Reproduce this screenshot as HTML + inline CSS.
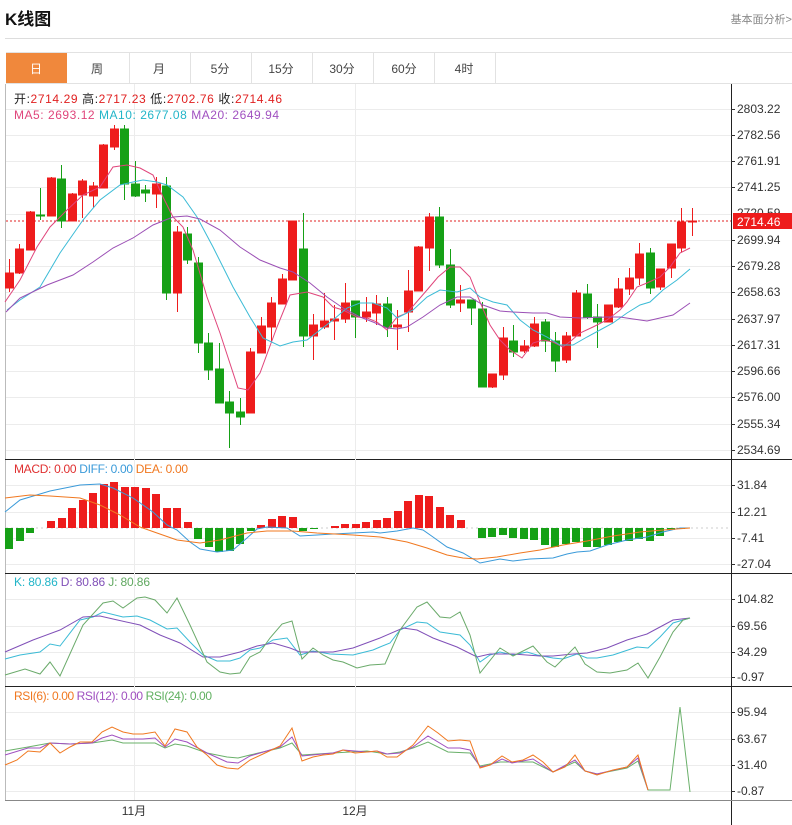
<!DOCTYPE html>
<html><head><meta charset="utf-8"><style>
body{margin:0;width:792px;height:825px;background:#fff;overflow:hidden;font-family:"Liberation Sans","Noto Sans CJK SC",sans-serif}
svg{position:absolute;left:0;top:0}
</style></head><body>
<svg width="792" height="825" xmlns="http://www.w3.org/2000/svg" font-family="Liberation Sans, Noto Sans CJK SC, sans-serif">
<text x="5" y="25" font-size="17" font-weight="bold" fill="#111">K线图</text>
<text x="792" y="23" font-size="11" fill="#888" text-anchor="end">基本面分析&gt;</text>
<line x1="5" y1="38.5" x2="792" y2="38.5" stroke="#ddd"/>
<!-- tabs -->
<line x1="6" y1="52.5" x2="792" y2="52.5" stroke="#e2e2e2"/>
<line x1="6" y1="83.5" x2="792" y2="83.5" stroke="#e2e2e2"/>
<rect x="6" y="53" width="61" height="30" fill="#f0883c"/>
<g stroke="#e2e2e2"><line x1="129.5" y1="53" x2="129.5" y2="83"/><line x1="190.5" y1="53" x2="190.5" y2="83"/><line x1="251.5" y1="53" x2="251.5" y2="83"/><line x1="312.5" y1="53" x2="312.5" y2="83"/><line x1="373.5" y1="53" x2="373.5" y2="83"/><line x1="434.5" y1="53" x2="434.5" y2="83"/><line x1="495.5" y1="53" x2="495.5" y2="83"/></g>
<g font-size="12" fill="#444" text-anchor="middle"><text x="36" y="73" fill="#fff">日</text><text x="97" y="73">周</text><text x="159" y="73">月</text><text x="220" y="73">5分</text><text x="281" y="73">15分</text><text x="342" y="73">30分</text><text x="404" y="73">60分</text><text x="464" y="73">4时</text></g>
<!-- frame -->
<line x1="5.5" y1="84" x2="5.5" y2="800" stroke="#bbb"/>
<line x1="731.5" y1="84" x2="731.5" y2="825" stroke="#222"/>
<g stroke="#222"><line x1="5" y1="459.5" x2="792" y2="459.5"/><line x1="5" y1="573.5" x2="792" y2="573.5"/><line x1="5" y1="686.5" x2="792" y2="686.5"/></g>
<line x1="5" y1="800.5" x2="792" y2="800.5" stroke="#888"/>
<!-- grid -->
<g stroke="#ececec">
<line x1="134.5" y1="84" x2="134.5" y2="800"/><line x1="355.5" y1="84" x2="355.5" y2="800"/>
<line x1="6" y1="109.5" x2="731" y2="109.5"/><line x1="6" y1="135.5" x2="731" y2="135.5"/><line x1="6" y1="161.5" x2="731" y2="161.5"/><line x1="6" y1="187.5" x2="731" y2="187.5"/><line x1="6" y1="214.5" x2="731" y2="214.5"/><line x1="6" y1="240.5" x2="731" y2="240.5"/><line x1="6" y1="266.5" x2="731" y2="266.5"/><line x1="6" y1="292.5" x2="731" y2="292.5"/><line x1="6" y1="319.5" x2="731" y2="319.5"/><line x1="6" y1="345.5" x2="731" y2="345.5"/><line x1="6" y1="371.5" x2="731" y2="371.5"/><line x1="6" y1="397.5" x2="731" y2="397.5"/><line x1="6" y1="424.5" x2="731" y2="424.5"/><line x1="6" y1="450.5" x2="731" y2="450.5"/>
<line x1="6" y1="485.5" x2="731" y2="485.5"/><line x1="6" y1="512.5" x2="731" y2="512.5"/><line x1="6" y1="538.5" x2="731" y2="538.5"/><line x1="6" y1="564.5" x2="731" y2="564.5"/>
<line x1="6" y1="599.5" x2="731" y2="599.5"/><line x1="6" y1="626.5" x2="731" y2="626.5"/><line x1="6" y1="652.5" x2="731" y2="652.5"/><line x1="6" y1="677.5" x2="731" y2="677.5"/>
<line x1="6" y1="712.5" x2="731" y2="712.5"/><line x1="6" y1="739.5" x2="731" y2="739.5"/><line x1="6" y1="765.5" x2="731" y2="765.5"/><line x1="6" y1="791.5" x2="731" y2="791.5"/>
</g>
<!-- axis labels -->
<g font-size="12" fill="#333">
<g stroke="#333"><line x1="731" y1="109.5" x2="735" y2="109.5"/><line x1="731" y1="135.5" x2="735" y2="135.5"/><line x1="731" y1="161.5" x2="735" y2="161.5"/><line x1="731" y1="187.5" x2="735" y2="187.5"/><line x1="731" y1="240.5" x2="735" y2="240.5"/><line x1="731" y1="266.5" x2="735" y2="266.5"/><line x1="731" y1="292.5" x2="735" y2="292.5"/><line x1="731" y1="319.5" x2="735" y2="319.5"/><line x1="731" y1="345.5" x2="735" y2="345.5"/><line x1="731" y1="371.5" x2="735" y2="371.5"/><line x1="731" y1="397.5" x2="735" y2="397.5"/><line x1="731" y1="424.5" x2="735" y2="424.5"/><line x1="731" y1="450.5" x2="735" y2="450.5"/>
<line x1="731" y1="485.5" x2="735" y2="485.5"/><line x1="731" y1="512.5" x2="735" y2="512.5"/><line x1="731" y1="538.5" x2="735" y2="538.5"/><line x1="731" y1="564.5" x2="735" y2="564.5"/><line x1="731" y1="599.5" x2="735" y2="599.5"/><line x1="731" y1="626.5" x2="735" y2="626.5"/><line x1="731" y1="652.5" x2="735" y2="652.5"/><line x1="731" y1="677.5" x2="735" y2="677.5"/><line x1="731" y1="712.5" x2="735" y2="712.5"/><line x1="731" y1="739.5" x2="735" y2="739.5"/><line x1="731" y1="765.5" x2="735" y2="765.5"/><line x1="731" y1="791.5" x2="735" y2="791.5"/></g>
<text x="737" y="113">2803.22</text><text x="737" y="139">2782.56</text><text x="737" y="165">2761.91</text><text x="737" y="191">2741.25</text><text x="737" y="217">2720.59</text><text x="737" y="244">2699.94</text><text x="737" y="270">2679.28</text><text x="737" y="296">2658.63</text><text x="737" y="323">2637.97</text><text x="737" y="349">2617.31</text><text x="737" y="375">2596.66</text><text x="737" y="401">2576.00</text><text x="737" y="428">2555.34</text><text x="737" y="454">2534.69</text>
<text x="737" y="489">31.84</text><text x="737" y="516">12.21</text><text x="737" y="542">-7.41</text><text x="737" y="568">-27.04</text>
<text x="737" y="603">104.82</text><text x="737" y="630">69.56</text><text x="737" y="656">34.29</text><text x="737" y="681">-0.97</text>
<text x="737" y="716">95.94</text><text x="737" y="743">63.67</text><text x="737" y="769">31.40</text><text x="737" y="795">-0.87</text>
<text x="134" y="815" text-anchor="middle">11月</text><text x="355" y="815" text-anchor="middle">12月</text>
</g>
<rect x="733" y="213" width="59" height="16" fill="#ee1c1c"/>
<text x="737" y="226" font-size="12" fill="#fff">2714.46</text>
<line x1="6" y1="221" x2="731" y2="221" stroke="#e02020" stroke-dasharray="2,2"/>
<!-- legends -->
<g font-size="12">
<text x="14" y="103" fill="#222" textLength="268" lengthAdjust="spacing">开:<tspan fill="#e02020">2714.29</tspan> 高:<tspan fill="#e02020">2717.23</tspan> 低:<tspan fill="#e02020">2702.76</tspan> 收:<tspan fill="#e02020">2714.46</tspan></text>
<text x="14" y="119" fill="#e0457b" textLength="265" lengthAdjust="spacing">MA5: 2693.12 <tspan fill="#22b5c8">MA10: 2677.08 </tspan><tspan fill="#a050c0">MA20: 2649.94</tspan></text>
<text x="14" y="473" fill="#e03030" textLength="174" lengthAdjust="spacing">MACD: 0.00 <tspan fill="#3a9ad9">DIFF: 0.00 </tspan><tspan fill="#f07820">DEA: 0.00</tspan></text>
<text x="14" y="586" fill="#22b5c8" textLength="136" lengthAdjust="spacing">K: 80.86 <tspan fill="#8050b8">D: 80.86 </tspan><tspan fill="#60a860">J: 80.86</tspan></text>
<text x="14" y="700" fill="#f07820" textLength="198" lengthAdjust="spacing">RSI(6): 0.00 <tspan fill="#a050c0">RSI(12): 0.00 </tspan><tspan fill="#60b060">RSI(24): 0.00</tspan></text>
</g>
<!-- candles -->
<g stroke-width="1">
<g stroke="#ee1c1c" fill="#ee1c1c">
<line x1="9.5" y1="259" x2="9.5" y2="292"/><rect x="5.5" y="273" width="8" height="15"/>
<line x1="19.5" y1="244" x2="19.5" y2="274"/><rect x="15.5" y="249" width="8" height="24"/>
<line x1="30.5" y1="211" x2="30.5" y2="250"/><rect x="26.5" y="212" width="8" height="38"/>
<line x1="51.5" y1="177" x2="51.5" y2="216"/><rect x="47.5" y="178" width="8" height="38"/>
<line x1="72.5" y1="193" x2="72.5" y2="221"/><rect x="68.5" y="194" width="8" height="27"/>
<line x1="82.5" y1="179" x2="82.5" y2="218"/><rect x="78.5" y="181" width="8" height="14"/>
<line x1="93.5" y1="182" x2="93.5" y2="208"/><rect x="89.5" y="186" width="8" height="10"/>
<line x1="103.5" y1="144" x2="103.5" y2="188"/><rect x="99.5" y="145" width="8" height="43"/>
<line x1="114.5" y1="125" x2="114.5" y2="150"/><rect x="110.5" y="129" width="8" height="18"/>
<line x1="156.5" y1="177" x2="156.5" y2="208"/><rect x="152.5" y="184" width="8" height="10"/>
<line x1="177.5" y1="226" x2="177.5" y2="312"/><rect x="173.5" y="232" width="8" height="61"/>
<line x1="250.5" y1="348" x2="250.5" y2="413"/><rect x="246.5" y="352" width="8" height="61"/>
<line x1="261.5" y1="317" x2="261.5" y2="353"/><rect x="257.5" y="326" width="8" height="27"/>
<line x1="271.5" y1="297" x2="271.5" y2="342"/><rect x="267.5" y="303" width="8" height="24"/>
<line x1="282.5" y1="274" x2="282.5" y2="304"/><rect x="278.5" y="279" width="8" height="25"/>
<line x1="292.5" y1="221" x2="292.5" y2="280"/><rect x="288.5" y="221" width="8" height="59"/>
<line x1="313.5" y1="314" x2="313.5" y2="360"/><rect x="309.5" y="325" width="8" height="11"/>
<line x1="324.5" y1="293" x2="324.5" y2="329"/><rect x="320.5" y="321" width="8" height="6"/>
<line x1="334.5" y1="305" x2="334.5" y2="340"/><rect x="330.5" y="319" width="8" height="2"/>
<line x1="345.5" y1="283" x2="345.5" y2="323"/><rect x="341.5" y="303" width="8" height="16"/>
<line x1="366.5" y1="297" x2="366.5" y2="322"/><rect x="362.5" y="312" width="8" height="5"/>
<line x1="376.5" y1="295" x2="376.5" y2="325"/><rect x="372.5" y="304" width="8" height="9"/>
<line x1="397.5" y1="310" x2="397.5" y2="350"/><rect x="393.5" y="325" width="8" height="2"/>
<line x1="408.5" y1="270" x2="408.5" y2="332"/><rect x="404.5" y="291" width="8" height="21"/>
<line x1="418.5" y1="246" x2="418.5" y2="291"/><rect x="414.5" y="247" width="8" height="44"/>
<line x1="429.5" y1="213" x2="429.5" y2="271"/><rect x="425.5" y="217" width="8" height="31"/>
<line x1="460.5" y1="285" x2="460.5" y2="312"/><rect x="456.5" y="300" width="8" height="3"/>
<line x1="492.5" y1="374" x2="492.5" y2="388"/><rect x="488.5" y="374" width="8" height="13"/>
<line x1="503.5" y1="327" x2="503.5" y2="380"/><rect x="499.5" y="338" width="8" height="37"/>
<line x1="524.5" y1="340" x2="524.5" y2="353"/><rect x="520.5" y="346" width="8" height="5"/>
<line x1="534.5" y1="317" x2="534.5" y2="347"/><rect x="530.5" y="324" width="8" height="22"/>
<line x1="566.5" y1="332" x2="566.5" y2="363"/><rect x="562.5" y="336" width="8" height="24"/>
<line x1="576.5" y1="290" x2="576.5" y2="336"/><rect x="572.5" y="293" width="8" height="43"/>
<line x1="608.5" y1="305" x2="608.5" y2="322"/><rect x="604.5" y="305" width="8" height="17"/>
<line x1="618.5" y1="278" x2="618.5" y2="308"/><rect x="614.5" y="289" width="8" height="18"/>
<line x1="629.5" y1="268" x2="629.5" y2="295"/><rect x="625.5" y="278" width="8" height="11"/>
<line x1="639.5" y1="243" x2="639.5" y2="285"/><rect x="635.5" y="254" width="8" height="24"/>
<line x1="660.5" y1="269" x2="660.5" y2="290"/><rect x="656.5" y="269" width="8" height="18"/>
<line x1="671.5" y1="244" x2="671.5" y2="278"/><rect x="667.5" y="244" width="8" height="24"/>
<line x1="681.5" y1="208" x2="681.5" y2="252"/><rect x="677.5" y="222" width="8" height="26"/>
<line x1="692.5" y1="208" x2="692.5" y2="236"/><rect x="688.5" y="221" width="8" height="1"/>
</g>
<g stroke="#16a016" fill="#16a016">
<line x1="40.5" y1="188" x2="40.5" y2="220"/><rect x="36.5" y="215" width="8" height="1"/>
<line x1="61.5" y1="165" x2="61.5" y2="228"/><rect x="57.5" y="179" width="8" height="42"/>
<line x1="124.5" y1="125" x2="124.5" y2="200"/><rect x="120.5" y="129" width="8" height="55"/>
<line x1="135.5" y1="161" x2="135.5" y2="197"/><rect x="131.5" y="184" width="8" height="12"/>
<line x1="145.5" y1="185" x2="145.5" y2="202"/><rect x="141.5" y="190" width="8" height="3"/>
<line x1="166.5" y1="177" x2="166.5" y2="300"/><rect x="162.5" y="186" width="8" height="107"/>
<line x1="187.5" y1="227" x2="187.5" y2="264"/><rect x="183.5" y="234" width="8" height="26"/>
<line x1="198.5" y1="257" x2="198.5" y2="353"/><rect x="194.5" y="263" width="8" height="80"/>
<line x1="208.5" y1="333" x2="208.5" y2="380"/><rect x="204.5" y="343" width="8" height="27"/>
<line x1="219.5" y1="343" x2="219.5" y2="403"/><rect x="215.5" y="369" width="8" height="34"/>
<line x1="229.5" y1="391" x2="229.5" y2="448"/><rect x="225.5" y="402" width="8" height="11"/>
<line x1="240.5" y1="398" x2="240.5" y2="425"/><rect x="236.5" y="412" width="8" height="5"/>
<line x1="303.5" y1="213" x2="303.5" y2="347"/><rect x="299.5" y="249" width="8" height="87"/>
<line x1="355.5" y1="301" x2="355.5" y2="338"/><rect x="351.5" y="301" width="8" height="16"/>
<line x1="387.5" y1="297" x2="387.5" y2="337"/><rect x="383.5" y="304" width="8" height="23"/>
<line x1="439.5" y1="207" x2="439.5" y2="268"/><rect x="435.5" y="217" width="8" height="48"/>
<line x1="450.5" y1="249" x2="450.5" y2="308"/><rect x="446.5" y="265" width="8" height="40"/>
<line x1="471.5" y1="300" x2="471.5" y2="325"/><rect x="467.5" y="300" width="8" height="8"/>
<line x1="482.5" y1="302" x2="482.5" y2="387"/><rect x="478.5" y="309" width="8" height="78"/>
<line x1="513.5" y1="325" x2="513.5" y2="357"/><rect x="509.5" y="341" width="8" height="11"/>
<line x1="545.5" y1="319" x2="545.5" y2="352"/><rect x="541.5" y="322" width="8" height="19"/>
<line x1="555.5" y1="332" x2="555.5" y2="372"/><rect x="551.5" y="341" width="8" height="20"/>
<line x1="587.5" y1="284" x2="587.5" y2="319"/><rect x="583.5" y="294" width="8" height="23"/>
<line x1="597.5" y1="304" x2="597.5" y2="348"/><rect x="593.5" y="317" width="8" height="5"/>
<line x1="650.5" y1="248" x2="650.5" y2="294"/><rect x="646.5" y="253" width="8" height="35"/>
</g>
</g>
<!-- MAs -->
<g fill="none" stroke-width="1">
<polyline stroke="#e0457b" points="5,302 20,280 37,247 50,227 67,210 83,195 100,187 113,167 127,165 140,168 153,175 163,197 173,217 183,227 193,250 207,297 220,333 238,388 248,390 260,373 277,327 290,295 307,292 323,297 333,307 343,310 357,317 367,318 377,322 387,330 397,317 407,313 427,290 438,277 450,267 460,267 470,277 480,302 490,325 500,340 510,350 522,358 533,343 543,340 553,342 563,347 572,340 580,333 593,327 607,320 620,310 627,302 637,287 647,283 660,277 670,267 680,253 690,248"/>
<polyline stroke="#3bbbd6" points="7,310 20,300 40,287 60,253 83,220 100,200 120,185 133,182 143,180 157,182 167,185 183,197 197,217 213,247 233,287 250,317 263,338 280,346 293,342 307,340 320,330 333,320 347,308 360,303 373,303 387,308 397,318 413,310 427,297 440,290 457,292 470,288 480,297 493,302 507,305 520,320 533,330 547,337 560,345 573,345 587,337 600,330 613,323 627,313 640,305 650,302 663,290 677,280 690,269"/>
<polyline stroke="#9b4fb5" points="6,312 20,298 47,285 73,275 93,262 113,248 133,238 153,225 173,217 187,216 200,219 220,230 240,247 260,260 280,268 293,272 310,283 327,297 343,308 360,317 373,322 387,328 397,329 407,327 423,317 440,305 457,297 470,297 483,305 500,311 513,312 533,313 547,313 560,317 580,318 607,317 620,317 633,319 647,321 660,318 673,315 690,303"/>
</g>
<!-- MACD -->
<line x1="6" y1="528" x2="731" y2="528" stroke="#ccc" stroke-dasharray="2,3"/>
<g fill="#ee1c1c">
<rect x="47" y="521" width="8" height="7"/><rect x="58" y="518" width="8" height="10"/><rect x="68" y="508" width="8" height="20"/><rect x="79" y="500" width="8" height="28"/><rect x="89" y="493" width="8" height="35"/><rect x="100" y="484" width="8" height="44"/><rect x="110" y="482" width="8" height="46"/><rect x="121" y="487" width="8" height="41"/><rect x="131" y="487" width="8" height="41"/><rect x="142" y="488" width="8" height="40"/><rect x="152" y="494" width="8" height="34"/><rect x="163" y="508" width="8" height="20"/><rect x="173" y="508" width="8" height="20"/><rect x="184" y="522" width="8" height="6"/>
<rect x="257" y="525" width="8" height="3"/><rect x="268" y="519" width="8" height="9"/><rect x="278" y="516" width="8" height="12"/><rect x="289" y="517" width="8" height="11"/>
<rect x="331" y="526" width="8" height="2"/><rect x="341" y="524" width="8" height="4"/><rect x="352" y="524" width="8" height="4"/><rect x="362" y="522" width="8" height="6"/><rect x="373" y="520" width="8" height="8"/><rect x="383" y="518" width="8" height="10"/><rect x="394" y="511" width="8" height="17"/><rect x="404" y="501" width="8" height="27"/><rect x="415" y="495" width="8" height="33"/><rect x="425" y="496" width="8" height="32"/><rect x="436" y="507" width="8" height="21"/><rect x="446" y="515" width="8" height="13"/><rect x="457" y="520" width="8" height="8"/>
</g>
<g fill="#16a016">
<rect x="5" y="528" width="8" height="21"/><rect x="16" y="528" width="8" height="13"/><rect x="26" y="528" width="8" height="5"/>
<rect x="194" y="528" width="8" height="11"/><rect x="205" y="528" width="8" height="19"/><rect x="215" y="528" width="8" height="24"/><rect x="226" y="528" width="8" height="23"/><rect x="236" y="528" width="8" height="16"/><rect x="247" y="528" width="8" height="3"/>
<rect x="299" y="528" width="8" height="3"/><rect x="310" y="528" width="8" height="1"/>
<rect x="478" y="528" width="8" height="10"/><rect x="488" y="528" width="8" height="9"/><rect x="499" y="528" width="8" height="7"/><rect x="509" y="528" width="8" height="10"/><rect x="520" y="528" width="8" height="11"/><rect x="530" y="528" width="8" height="12"/><rect x="541" y="528" width="8" height="17"/><rect x="551" y="528" width="8" height="19"/><rect x="562" y="528" width="8" height="16"/><rect x="572" y="528" width="8" height="14"/><rect x="583" y="528" width="8" height="19"/><rect x="593" y="528" width="8" height="19"/><rect x="604" y="528" width="8" height="17"/><rect x="614" y="528" width="8" height="14"/><rect x="625" y="528" width="8" height="13"/><rect x="635" y="528" width="8" height="11"/><rect x="646" y="528" width="8" height="13"/><rect x="656" y="528" width="8" height="8"/><rect x="667" y="528" width="8" height="2"/><rect x="677" y="528" width="8" height="1"/>
</g>
<g fill="none">
<polyline stroke="#3a9ad9" points="5,512 20,500 50,491 80,485 100,484 113,488 133,498 153,512 167,525 177,530 190,542 200,549 217,552 233,550 247,538 257,529 267,527 287,528 300,536 317,535 333,534 353,533 373,532 380,533 397,531 413,528 423,530 433,537 447,547 463,553 480,563 500,559 513,561 530,559 553,558 567,554 577,552 590,551 607,545 627,540 647,537 663,532 680,528 690,528"/>
<polyline stroke="#f07820" points="5,498 30,495 50,496 80,498 100,505 120,515 140,527 157,533 177,540 200,543 220,540 247,533 267,531 293,531 317,533 353,535 380,537 407,542 427,548 447,555 463,558 477,559 497,557 520,553 540,550 563,545 587,541 613,536 640,532 663,530 690,528"/>
<!-- KDJ -->
<polyline stroke="#3bbbd6" points="5,659 20,655 40,652 50,644 60,646 80,620 93,617 103,612 123,617 137,616 150,620 167,629 177,628 190,642 203,655 217,661 230,661 240,658 250,650 260,648 273,640 287,638 300,655 313,651 330,654 353,655 373,650 380,647 390,643 400,630 417,622 427,623 440,632 460,635 470,645 480,662 490,655 500,652 513,655 527,652 537,655 553,658 563,659 577,654 587,658 597,658 613,655 637,647 648,648 660,637 673,623 690,618"/>
<polyline stroke="#8050b8" points="5,652 33,640 60,630 83,617 100,616 113,619 140,625 160,635 180,643 203,657 220,657 240,652 257,646 273,643 290,648 300,652 333,652 353,648 380,638 403,628 417,630 433,638 457,647 477,657 490,654 513,654 540,656 553,656 573,654 587,653 607,648 627,640 647,634 660,627 673,620 690,618"/>
<polyline stroke="#6aaa6a" points="5,675 25,669 40,674 50,662 60,676 83,625 103,603 113,601 123,608 137,598 145,597 155,600 167,613 177,598 190,625 207,662 220,672 230,674 240,673 250,657 260,652 270,638 282,624 292,621 302,659 313,648 323,655 333,660 343,662 357,668 370,665 385,664 400,630 417,607 427,602 440,617 450,618 460,612 470,635 480,673 500,648 513,656 533,646 547,662 555,667 575,647 585,664 597,672 610,673 627,670 638,663 648,678 660,657 673,632 683,620 690,618"/>
<!-- RSI -->
<polyline stroke="#6ab06a" points="5,751 28,747 50,743 70,744 92,743 112,740 123,743 155,743 165,748 175,744 187,746 207,753 227,757 238,758 250,755 280,748 292,743 302,755 333,753 367,751 387,754 400,752 413,748 428,742 448,752 470,753 480,766 500,762 533,762 553,772 575,762 585,771 597,774 627,768 638,761 648,790 670,790 680,707 690,792"/>
<polyline stroke="#a050c0" points="5,755 28,748 40,748 50,743 70,744 92,743 102,738 112,735 123,739 143,739 155,738 165,747 175,739 187,742 207,753 227,762 238,763 250,756 280,747 292,737 302,756 333,753 343,750 367,752 377,751 387,754 400,753 413,747 428,736 448,748 460,748 470,750 480,767 490,765 502,759 512,763 533,759 553,772 575,760 585,771 597,774 627,767 638,758 648,790"/>
<polyline stroke="#f07820" points="5,765 17,760 28,751 40,752 50,743 60,753 70,747 80,742 92,742 102,732 112,727 123,732 133,734 143,734 155,732 165,746 175,729 187,732 197,747 207,755 217,765 227,768 238,769 250,760 263,754 280,746 292,728 302,761 313,757 323,755 333,754 343,750 355,753 367,752 377,751 387,757 397,757 413,745 428,726 438,733 448,741 460,740 470,741 480,768 490,765 502,756 512,762 523,760 533,755 543,762 553,772 565,767 575,755 585,771 597,775 613,770 627,767 638,755 648,790"/>
</g>
</svg>
</body></html>
